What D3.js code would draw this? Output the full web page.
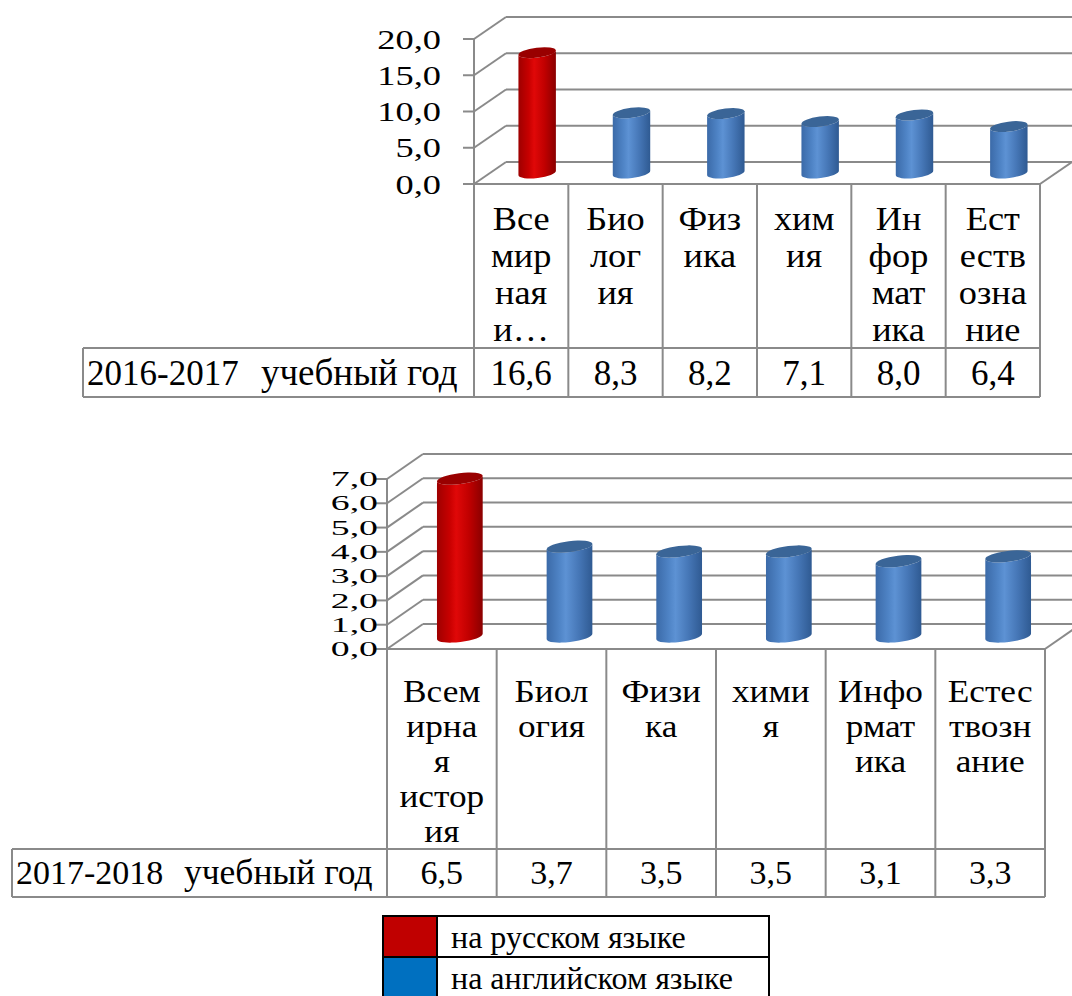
<!DOCTYPE html>
<html lang="ru">
<head>
<meta charset="utf-8">
<title>Доля предметов по языку обучения</title>
<script src="https://cdn.jsdelivr.net/npm/d3@7/dist/d3.min.js"></script>
<style>
  html, body { margin: 0; padding: 0; background: #ffffff; }
  svg { display: block; }
</style>
</head>
<body>
<svg id="chart" width="1072" height="996"></svg>
<script>
// ---- data ----
const categories = ["Всемирная история", "Биология", "Физика", "химия", "Информатика", "Естествознание"];
const language = ["ru", "en", "en", "en", "en", "en"];

const yearLabel2016 = "2016-2017";
const values2016 = [16.6, 8.3, 8.2, 7.1, 8.0, 6.4];
const headerLines2016 = [["Все", "мир", "ная", "и…"], ["Био", "лог", "ия"], ["Физ", "ика"], ["хим", "ия"], ["Ин", "фор", "мат", "ика"], ["Ест", "еств", "озна", "ние"]];
const ticks2016 = [0, 5, 10, 15, 20];

const yearLabel2018 = "2017-2018";
const values2018 = [6.5, 3.7, 3.5, 3.5, 3.1, 3.3];
const headerLines2018 = [["Всем", "ирна", "я", "истор", "ия"], ["Биол", "огия"], ["Физи", "ка"], ["хими", "я"], ["Инфо", "рмат", "ика"], ["Естес", "твозн", "ание"]];
const ticks2018 = [0, 1, 2, 3, 4, 5, 6, 7];

const rowSuffix = "учебный год";
const legendKeys = ["ru", "en"];
const legendLabels = ["на русском языке", "на английском языке"];

// ---- styling ----
const FONT = "'Liberation Serif', 'Times New Roman', Tinos, serif";
const swatch = { ru: "#C00000", en: "#0070C0" };
const cylinder = {
  ru: { stops: ["#9e0000", "#c80000", "#e00808", "#c00000", "#8a0000"], top: "#990000" },
  en: { stops: ["#3b6aa8", "#4f84c6", "#5d92d4", "#4677b7", "#2f5a92"], top: "#3a6597" }
};
const gridColor = "#8a8a8a";
const fmt = v => d3.format(".1f")(v).replace(".", ",");

const svg = d3.select("#chart").style("font-family", FONT);
const defs = svg.append("defs");

Object.entries(cylinder).forEach(([key, c]) => {
  const g = defs.append("linearGradient").attr("id", "cyl-" + key)
    .attr("x1", "0%").attr("x2", "100%").attr("y1", "0%").attr("y2", "0%");
  const offs = [0, 0.28, 0.42, 0.7, 1];
  c.stops.forEach((col, i) => g.append("stop").attr("offset", offs[i]).attr("stop-color", col));
});

function label(sel) {
  return sel.append("text").style("font-family", FONT).attr("fill", "#000");
}

function drawPanel(cfg) {
  const g = svg.append("g");
  const x = d3.scaleBand().domain(categories).range([cfg.x0, cfg.x1]);
  const y = d3.scaleLinear().domain([0, cfg.max]).range([cfg.y0, cfg.yTop]);
  const { dx, dy } = cfg;

  // back wall gridlines and side wall diagonals
  cfg.ticks.forEach(t => {
    g.append("line")
      .attr("x1", cfg.x0 + dx).attr("x2", cfg.x1 + dx)
      .attr("y1", y(t) + dy).attr("y2", y(t) + dy)
      .attr("stroke", gridColor).attr("stroke-width", 2);
    g.append("line")
      .attr("x1", cfg.x0).attr("y1", y(t))
      .attr("x2", cfg.x0 + dx).attr("y2", y(t) + dy)
      .attr("stroke", gridColor).attr("stroke-width", 2);
  });
  // floor right edge
  g.append("line")
    .attr("x1", cfg.x1).attr("y1", y(0))
    .attr("x2", cfg.x1 + dx).attr("y2", y(0) + dy)
    .attr("stroke", gridColor).attr("stroke-width", 2);

  // value axis
  g.append("line")
    .attr("x1", cfg.x0).attr("x2", cfg.x0)
    .attr("y1", y(cfg.max)).attr("y2", y(0))
    .attr("stroke", gridColor).attr("stroke-width", 2);
  cfg.ticks.forEach(t => {
    g.append("line")
      .attr("x1", cfg.x0 - cfg.tickLen).attr("x2", cfg.x0)
      .attr("y1", y(t)).attr("y2", y(t))
      .attr("stroke", gridColor).attr("stroke-width", 2);
    label(g)
      .attr("transform", `translate(${cfg.labelRight},${y(t)}) scale(${cfg.axisStretch},1)`)
      .attr("text-anchor", "end").attr("dy", "0.34em")
      .style("font-size", cfg.axisFont + "px")
      .text(fmt(t));
  });

  // cylinders
  const bw = x.bandwidth() * cfg.barFrac;
  const r = bw / 2, ry = cfg.ry;
  const th = cfg.tilt * Math.PI / 180;
  const cx = d => x(d) + x.bandwidth() / 2 + dx / 2;
  const ex = r * Math.cos(th), ey = r * Math.sin(th);
  const bars = g.selectAll("g.bar").data(categories.map((c, i) => ({ c, v: cfg.values[i], k: language[i] })))
    .join("g").attr("class", "bar");
  bars.append("path")
    .attr("fill", d => `url(#cyl-${d.k})`)
    .attr("d", d => {
      const c = cx(d.c), yb = y(0) + dy / 2, yt = y(d.v) + dy / 2;
      return `M${c - ex},${yt + ey} L${c - ex},${yb + ey} ` +
        `A${r},${ry} ${-cfg.tilt} 0 0 ${c + ex},${yb - ey} ` +
        `L${c + ex},${yt - ey} A${r},${ry} ${-cfg.tilt} 0 1 ${c - ex},${yt + ey} Z`;
    });
  bars.append("ellipse")
    .attr("cx", 0).attr("cy", 0).attr("rx", r).attr("ry", ry)
    .attr("transform", d => `translate(${cx(d.c)},${y(d.v) + dy / 2}) rotate(${-cfg.tilt})`)
    .attr("fill", d => cylinder[d.k].top);

  // data table
  const tbl = g.append("g").attr("stroke", gridColor).attr("stroke-width", 2);
  tbl.append("line").attr("x1", cfg.x0).attr("x2", cfg.x1).attr("y1", y(0)).attr("y2", y(0));
  tbl.append("line").attr("x1", cfg.rowLeft).attr("x2", cfg.x1).attr("y1", cfg.rowTop).attr("y2", cfg.rowTop);
  tbl.append("line").attr("x1", cfg.rowLeft).attr("x2", cfg.x1).attr("y1", cfg.rowBottom).attr("y2", cfg.rowBottom);
  tbl.append("line").attr("x1", cfg.rowLeft).attr("x2", cfg.rowLeft).attr("y1", cfg.rowTop).attr("y2", cfg.rowBottom);
  categories.concat([null]).forEach(c => {
    const xx = c === null ? cfg.x1 : x(c);
    tbl.append("line").attr("x1", xx).attr("x2", xx).attr("y1", y(0)).attr("y2", cfg.rowBottom);
  });

  categories.forEach((c, i) => {
    const mid = x(c) + x.bandwidth() / 2;
    cfg.header[i].forEach((line, j) => {
      label(g)
        .attr("transform", `translate(${mid},${cfg.headerBase + j * cfg.headerStep}) scale(${cfg.wordStretch},1)`)
        .attr("text-anchor", "middle")
        .style("font-size", cfg.wordFont + "px")
        .text(line);
    });
    label(g)
      .attr("x", mid).attr("y", cfg.rowBase)
      .attr("text-anchor", "middle")
      .style("font-size", cfg.numFont + "px")
      .text(fmt(cfg.values[i]));
  });
  const rl = label(g).attr("y", cfg.rowBase);
  rl.append("tspan").attr("x", cfg.rowLeft + 4)
    .style("font-size", cfg.numFont + "px").text(cfg.year);
  rl.append("tspan").attr("x", cfg.rowLeft + cfg.suffixOffset)
    .style("font-size", cfg.suffixFont + "px").text(rowSuffix);
}

drawPanel({
  values: values2016, ticks: ticks2016, header: headerLines2016, year: yearLabel2016,
  max: 20, x0: 474, x1: 1040, y0: 184, yTop: 39, dx: 32, dy: -22,
  tickLen: 11, labelRight: 441, axisFont: 28, axisStretch: 1.3,
  barFrac: 0.4, ry: 5, tilt: 7,
  rowLeft: 83, rowTop: 348, rowBottom: 397, numFont: 35,
  wordFont: 33, wordStretch: 1.1, suffixFont: 37,
  suffixOffset: 178, headerBase: 230, headerStep: 37, rowBase: 385
});

drawPanel({
  values: values2018, ticks: ticks2018, header: headerLines2018, year: yearLabel2018,
  max: 7, x0: 387, x1: 1045, y0: 649, yTop: 479, dx: 36, dy: -25,
  tickLen: 11, labelRight: 378, axisFont: 21, axisStretch: 1.8,
  barFrac: 0.42, ry: 5.5, tilt: 7,
  rowLeft: 12, rowTop: 849, rowBottom: 897, numFont: 34,
  wordFont: 31.5, wordStretch: 1.12, suffixFont: 35.5,
  suffixOffset: 172, headerBase: 702, headerStep: 35, rowBase: 884
});

// ---- legend ----
const lg = svg.append("g");
const lx = 383, ly = 916, lw = 386, lh = 41, sw = 54;
legendKeys.forEach((k, i) => {
  lg.append("rect").attr("x", lx).attr("y", ly + i * lh).attr("width", sw).attr("height", lh)
    .attr("fill", swatch[k]);
  label(lg).attr("x", lx + 68).attr("y", ly + i * lh + 32)
    .style("font-size", "32px").text(legendLabels[i]);
});
lg.append("rect").attr("x", lx).attr("y", ly).attr("width", lw).attr("height", lh * 2)
  .attr("fill", "none").attr("stroke", "#000").attr("stroke-width", 2);
lg.append("line").attr("x1", lx).attr("x2", lx + lw).attr("y1", ly + lh).attr("y2", ly + lh)
  .attr("stroke", "#000").attr("stroke-width", 2);
lg.append("line").attr("x1", lx + sw).attr("x2", lx + sw).attr("y1", ly).attr("y2", ly + lh * 2)
  .attr("stroke", "#000").attr("stroke-width", 2);
</script>
</body>
</html>
